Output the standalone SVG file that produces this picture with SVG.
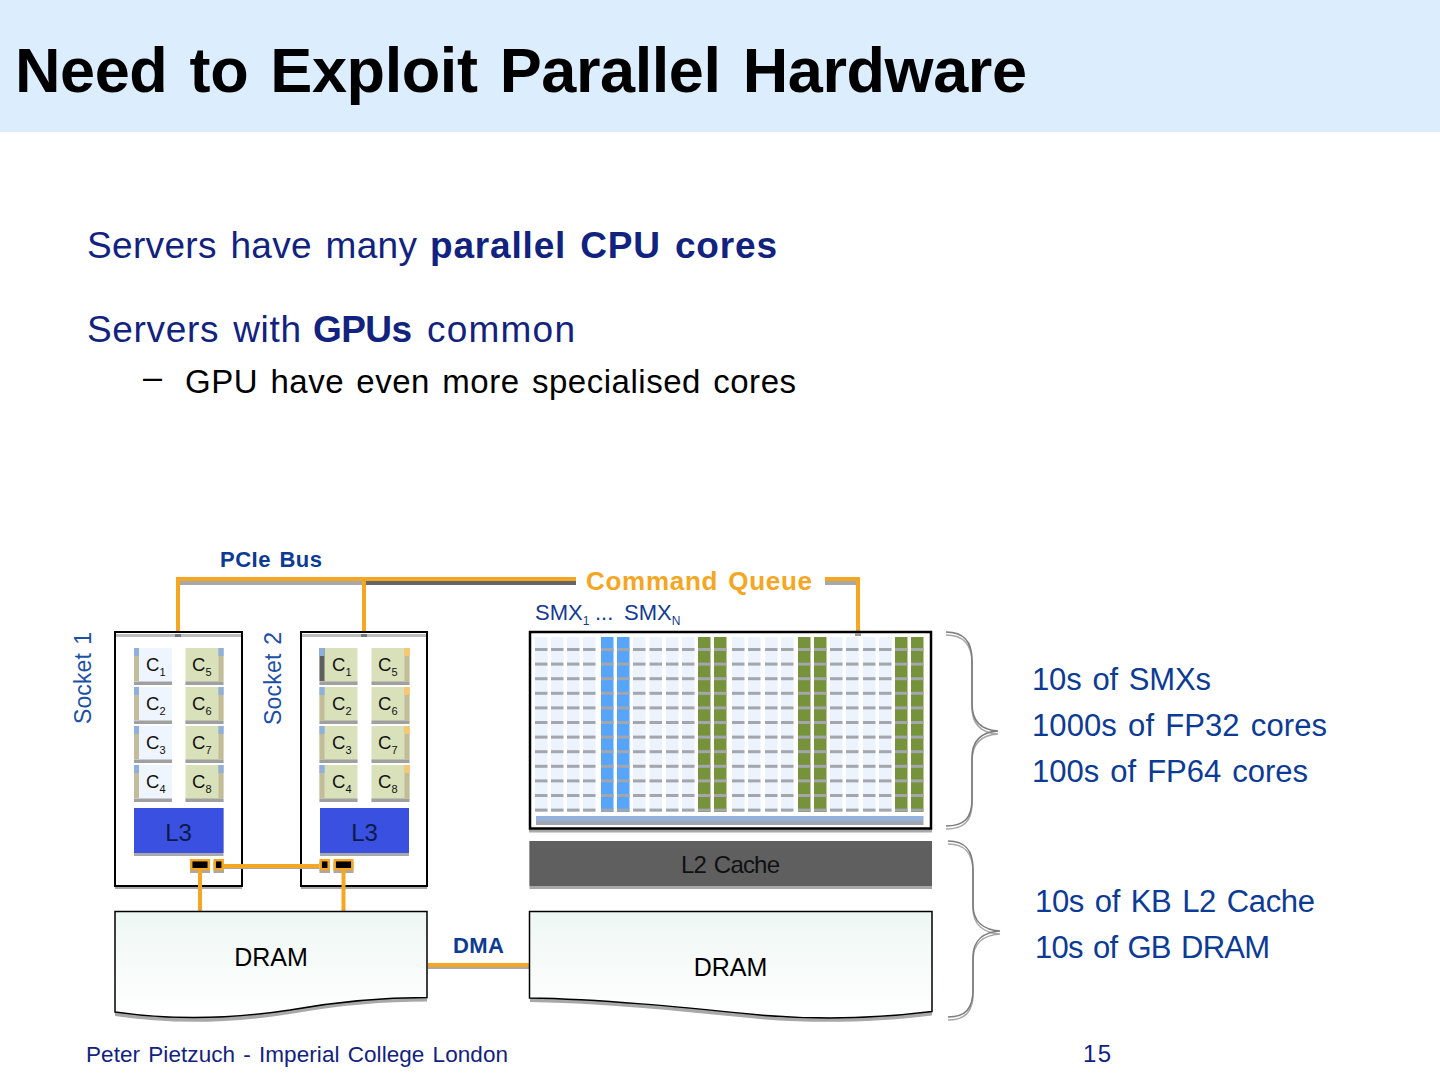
<svg xmlns="http://www.w3.org/2000/svg" xmlns:xlink="http://www.w3.org/1999/xlink" width="1440" height="1080" viewBox="0 0 1440 1080">
<style>
text{font-family:"Liberation Sans",Arial,sans-serif;word-spacing:.08em}
.b{font-weight:bold}
.navy{fill:#12227f}
.blue{fill:#0c3b95}
.lbl{font-size:18.500px;fill:#111}
.lbl tspan{font-size:11px}
.or{stroke:#f5a623;stroke-width:4;fill:none}
.sh{stroke:#a8a8a8;stroke-width:4;fill:none}
.box{fill:#fff;stroke:#000;stroke-width:2}
.shf{fill:#a8a8a8}
.dash{fill:#a3a6ad}
.port{fill:#000;stroke:#f5a623;stroke-width:2.5}
.br{fill:none;stroke:#7c7c7c;stroke-width:1.6}
.br2{fill:none;stroke:#a8a8a8;stroke-width:1.6}
</style>
<defs>
<linearGradient id="dramFill" x1="0" y1="0" x2="0" y2="1"><stop offset="0" stop-color="#eef7f4"/><stop offset="1" stop-color="#ffffff"/></linearGradient>
<g id="rows">
<rect class="dash" x="0" y="11" width="12.5" height="3"/><rect class="dash" x="0" y="25.6" width="12.5" height="3"/><rect class="dash" x="0" y="40.2" width="12.5" height="3"/><rect class="dash" x="0" y="54.8" width="12.5" height="3"/><rect class="dash" x="0" y="69.4" width="12.5" height="3"/><rect class="dash" x="0" y="84" width="12.5" height="3"/><rect class="dash" x="0" y="98.6" width="12.5" height="3"/><rect class="dash" x="0" y="113.2" width="12.5" height="3"/><rect class="dash" x="0" y="127.8" width="12.5" height="3"/><rect class="dash" x="0" y="142.4" width="12.5" height="3"/><rect class="dash" x="0" y="157" width="12.5" height="3"/><rect class="dash" x="0" y="171.6" width="12.5" height="3"/>
</g>
<g id="colL"><rect y="0" width="12.5" height="175" fill="#ecf3fc"/><use xlink:href="#rows"/></g>
<g id="colB"><rect y="0" width="12.5" height="175" fill="#56a5fb"/><use xlink:href="#rows"/></g>
<g id="colG"><rect y="0" width="12.5" height="175" fill="#76923a"/><use xlink:href="#rows"/></g>
<g id="coreA"><rect width="38" height="37" fill="#eef5fe"/><rect width="5" height="33" fill="#c2bd98"/><rect width="5" height="8" fill="#8fb0dc"/><rect y="33.500" width="38" height="3.500" fill="#a0a0a0"/></g>
<g id="coreB"><rect width="38" height="37" fill="#d9e1bb"/><rect x="33" width="5" height="33" fill="#c2bd98"/><rect x="33" width="5" height="8" fill="#8fb0dc"/><rect y="33.500" width="38" height="3.500" fill="#a0a0a0"/></g>
<g id="coreC"><rect width="38" height="37" fill="#d9e1bb"/><rect width="5" height="33" fill="#c2bd98"/><rect width="5" height="8" fill="#8fb0dc"/><rect y="33.500" width="38" height="3.500" fill="#a0a0a0"/></g>
<g id="coreD"><rect width="38" height="37" fill="#d9e1bb"/><rect x="33" width="5" height="33" fill="#c2bd98"/><rect x="33" width="5" height="8" fill="#fbc66e"/><rect y="33.500" width="38" height="3.500" fill="#a0a0a0"/></g>
<g id="coreE"><rect width="38" height="37" fill="#d9e1bb"/><rect width="5" height="33" fill="#5f5f5f"/><rect width="5" height="8" fill="#8fb0dc"/><rect y="33.500" width="38" height="3.500" fill="#a0a0a0"/></g>
<path id="braceT" d="M946 632C964 632 972 642 972 660V704C972 722 982 730 998 731C982 732 972 740 972 758V800C972 818 964 826 946 826"/>
<path id="braceB" d="M948 841C966 841 973 851 973 869V905C973 922 984 930 1000 931C984 932 973 940 973 957V990C973 1008 966 1017 948 1017"/>
</defs>

<g id="header"><rect width="1440" height="132" fill="#dcedfe"/>
<text x="15" y="92" font-size="63" class="b" textLength="1012" lengthAdjust="spacing" fill="#000">Need to Exploit Parallel Hardware</text></g>

<g id="body">
<text x="87" y="258" font-size="37" class="navy" textLength="330" lengthAdjust="spacing">Servers have many</text>
<text x="430" y="258" font-size="37" class="navy b" textLength="347" lengthAdjust="spacing">parallel CPU cores</text>
<text x="87" y="342" font-size="37" class="navy" textLength="214" lengthAdjust="spacing">Servers with</text>
<text x="313" y="342" font-size="37" class="navy b" textLength="99" lengthAdjust="spacing">GPUs</text>
<text x="427" y="342" font-size="37" class="navy" textLength="148" lengthAdjust="spacing">common</text>
<text x="143" y="388" font-size="33" fill="#000" textLength="19" lengthAdjust="spacingAndGlyphs">–</text>
<text x="185" y="393" font-size="33" fill="#000" textLength="611" lengthAdjust="spacing">GPU have even more specialised cores</text>
</g>

<g id="connectors">
<path class="sh" d="M178 583H364"/><path d="M364 583H576" fill="none" stroke="#666" stroke-width="4"/><path class="sh" d="M825 583H858"/>
<path class="or" d="M178 632V579H576"/><path class="or" d="M364 579V632"/><path class="or" d="M825 579H858V632"/>
</g>

<g id="socket1">
<rect class="shf" x="115" y="633" width="127" height="256"/><rect class="box" x="115" y="632" width="127" height="254"/>
<rect x="116" y="634" width="125" height="3" fill="#bdbdbd"/><rect x="175" y="634" width="6" height="3" fill="#777"/>
<use xlink:href="#coreA" x="134" y="648"/><use xlink:href="#coreA" x="134" y="687"/><use xlink:href="#coreA" x="134" y="726"/><use xlink:href="#coreA" x="134" y="765"/>
<use xlink:href="#coreB" x="185.500" y="648"/><use xlink:href="#coreB" x="185.500" y="687"/><use xlink:href="#coreB" x="185.500" y="726"/><use xlink:href="#coreB" x="185.500" y="765"/>
<text class="lbl" x="146" y="671">C<tspan dy="5">1</tspan></text><text class="lbl" x="146" y="710">C<tspan dy="5">2</tspan></text><text class="lbl" x="146" y="749">C<tspan dy="5">3</tspan></text><text class="lbl" x="146" y="788">C<tspan dy="5">4</tspan></text>
<text class="lbl" x="192" y="671">C<tspan dy="5">5</tspan></text><text class="lbl" x="192" y="710">C<tspan dy="5">6</tspan></text><text class="lbl" x="192" y="749">C<tspan dy="5">7</tspan></text><text class="lbl" x="192" y="788">C<tspan dy="5">8</tspan></text>
<rect class="shf" x="134" y="808" width="89.500" height="48"/><rect x="134" y="808" width="89.500" height="45" fill="#3a50e0"/>
<text x="178.500" y="841" font-size="24" text-anchor="middle" fill="#0c1a4a">L3</text>
<rect class="shf" x="190" y="862" width="20" height="11"/><rect class="port" x="191.200" y="860.200" width="17.600" height="9"/>
<rect class="shf" x="213.500" y="862" width="10.500" height="11"/><rect class="port" x="214.700" y="860.200" width="8" height="9"/>
</g>

<g id="socket2">
<rect class="shf" x="301" y="633" width="126" height="256"/><rect class="box" x="301" y="632" width="126" height="254"/>
<rect x="302" y="634" width="124" height="3" fill="#bdbdbd"/><rect x="361" y="634" width="6" height="3" fill="#777"/>
<use xlink:href="#coreE" x="319.500" y="648"/><use xlink:href="#coreC" x="319.500" y="687"/><use xlink:href="#coreC" x="319.500" y="726"/><use xlink:href="#coreC" x="319.500" y="765"/>
<use xlink:href="#coreD" x="371.500" y="648"/><use xlink:href="#coreD" x="371.500" y="687"/><use xlink:href="#coreD" x="371.500" y="726"/><use xlink:href="#coreD" x="371.500" y="765"/>
<text class="lbl" x="332" y="671">C<tspan dy="5">1</tspan></text><text class="lbl" x="332" y="710">C<tspan dy="5">2</tspan></text><text class="lbl" x="332" y="749">C<tspan dy="5">3</tspan></text><text class="lbl" x="332" y="788">C<tspan dy="5">4</tspan></text>
<text class="lbl" x="378" y="671">C<tspan dy="5">5</tspan></text><text class="lbl" x="378" y="710">C<tspan dy="5">6</tspan></text><text class="lbl" x="378" y="749">C<tspan dy="5">7</tspan></text><text class="lbl" x="378" y="788">C<tspan dy="5">8</tspan></text>
<rect class="shf" x="320" y="808" width="89" height="48"/><rect x="320" y="808" width="89" height="45" fill="#3a50e0"/>
<text x="364.500" y="841" font-size="24" text-anchor="middle" fill="#0c1a4a">L3</text>
<rect class="shf" x="319.500" y="862" width="10.500" height="11"/><rect class="port" x="320.700" y="860.200" width="8" height="9"/>
<rect class="shf" x="333.500" y="862" width="20" height="11"/><rect class="port" x="334.700" y="860.200" width="17.600" height="9"/>
</g>

<g id="connectors2">
<path class="sh" d="M224 867H319"/><path class="or" d="M224 866H319"/>
<path class="or" d="M200 870V911"/><path class="or" d="M343.500 870V911"/>
<path class="sh" d="M428 967H529"/><path class="or" d="M428 965H529"/>
</g>

<g id="dram1">
<path d="M115 912H427V1001.500C385 1001.500 340 1005 290 1014C225 1024 170 1024 115 1016Z" fill="#a8a8a8"/>
<path d="M115 911.500H427V997.500C385 997.500 340 1001 290 1010C225 1020 170 1020 115 1012Z" fill="url(#dramFill)" stroke="#000" stroke-width="1.500"/>
<text x="271" y="966" font-size="25" text-anchor="middle" fill="#000">DRAM</text>
</g>

<g id="gpu">
<rect class="shf" x="529" y="633" width="403" height="199.500"/><rect x="530" y="632" width="401" height="196.500" fill="#fff" stroke="#000" stroke-width="2.500"/>
<g id="smx" transform="translate(0,637)">
<use xlink:href="#colL" x="535"/><use xlink:href="#colL" x="551"/><use xlink:href="#colL" x="567"/><use xlink:href="#colL" x="583"/>
<use xlink:href="#colB" x="601"/><use xlink:href="#colB" x="617"/>
<use xlink:href="#colL" x="633"/><use xlink:href="#colL" x="649.500"/><use xlink:href="#colL" x="666"/><use xlink:href="#colL" x="682"/>
<use xlink:href="#colG" x="698"/><use xlink:href="#colG" x="714"/>
<use xlink:href="#colL" x="732"/><use xlink:href="#colL" x="748"/><use xlink:href="#colL" x="765"/><use xlink:href="#colL" x="781"/>
<use xlink:href="#colG" x="798"/><use xlink:href="#colG" x="814"/>
<use xlink:href="#colL" x="830"/><use xlink:href="#colL" x="846"/><use xlink:href="#colL" x="863"/><use xlink:href="#colL" x="879"/>
<use xlink:href="#colG" x="895"/><use xlink:href="#colG" x="911"/>
</g>
<rect x="536" y="816" width="387.500" height="5" fill="#94b0dc"/><rect x="536" y="821" width="387.500" height="4" fill="#a3a6ad"/>
<rect x="855" y="633" width="6" height="3" fill="#999"/>
</g>

<g id="l2">
<rect class="shf" x="529.500" y="841" width="402.500" height="48"/><rect x="529.500" y="841" width="402.500" height="45" fill="#5f5f5f"/>
<text x="681" y="873" font-size="24" fill="#111" textLength="99" lengthAdjust="spacing">L2 Cache</text>
</g>

<g id="dram2">
<path d="M530 912H932V1015.500C880 1022 820 1024 760 1019C680 1011 600 1003 530 1002Z" fill="#a8a8a8"/>
<path d="M529.500 911.500H932V1011.500C880 1018 820 1020 760 1015C680 1007 600 999 529.500 998Z" fill="url(#dramFill)" stroke="#000" stroke-width="1.500"/>
<text x="730.500" y="976" font-size="25" text-anchor="middle" fill="#000">DRAM</text>
</g>

<g id="labels">
<text x="220" y="567" font-size="22" class="blue b" textLength="102" lengthAdjust="spacing">PCIe Bus</text>
<text x="453" y="953" font-size="22" class="blue b" textLength="51" lengthAdjust="spacing">DMA</text>
<text x="586" y="590" font-size="26" class="b" fill="#f5a623" textLength="226" lengthAdjust="spacing">Command Queue</text>
<text x="535" y="620" font-size="22" fill="#143a92">SMX<tspan font-size="12" dy="5">1</tspan><tspan x="595" dy="-5">...</tspan><tspan x="624">SMX</tspan><tspan font-size="12" dy="5">N</tspan></text>
<text transform="translate(91,724) rotate(-90)" font-size="23" fill="#1c4fa6" textLength="92" lengthAdjust="spacing">Socket 1</text>
<text transform="translate(281,725) rotate(-90)" font-size="23" fill="#1c4fa6" textLength="93" lengthAdjust="spacing">Socket 2</text>
</g>

<g id="braces">
<use xlink:href="#braceT" class="br2" y="3"/><use xlink:href="#braceT" class="br"/>
<use xlink:href="#braceB" class="br2" y="3"/><use xlink:href="#braceB" class="br"/>
</g>

<g id="notes">
<text x="1032" y="690" font-size="31" class="blue" textLength="179" lengthAdjust="spacing">10s of SMXs</text>
<text x="1032" y="736" font-size="31" class="blue" textLength="295" lengthAdjust="spacing">1000s of FP32 cores</text>
<text x="1032" y="782" font-size="31" class="blue" textLength="276" lengthAdjust="spacing">100s of FP64 cores</text>
<text x="1035" y="912" font-size="31" class="blue" textLength="280" lengthAdjust="spacing">10s of KB L2 Cache</text>
<text x="1035" y="958" font-size="31" class="blue" textLength="235" lengthAdjust="spacing">10s of GB DRAM</text>
</g>

<g id="footer">
<text x="86" y="1062" font-size="22.500" class="navy" textLength="422" lengthAdjust="spacing">Peter Pietzuch - Imperial College London</text>
<text x="1083" y="1062" font-size="24" class="navy" textLength="28" lengthAdjust="spacing">15</text>
</g>
</svg>
